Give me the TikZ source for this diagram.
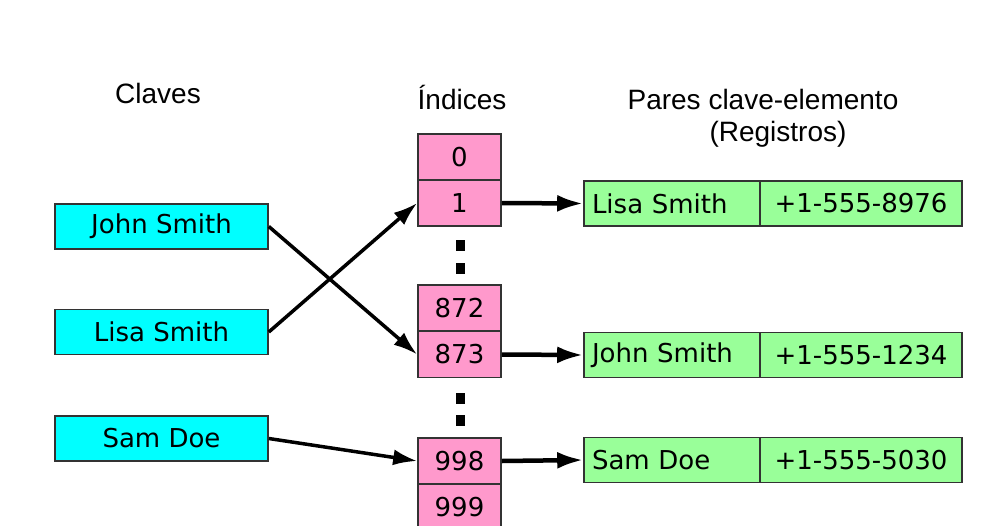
\documentclass[tikz,border=0pt]{standalone}
\usepackage{fontspec}
\setmainfont{Liberation Sans}
\newfontfamily\boxfont{DejaVu Sans}
\usetikzlibrary{arrows.meta}
\definecolor{keycyan}{HTML}{00FFFF}
\definecolor{idxpink}{HTML}{FF99CC}
\definecolor{recgreen}{HTML}{99FF99}
\definecolor{edge}{HTML}{333333}
\tikzset{
  cell/.style={draw=edge, line width=1.6pt, inner sep=0pt, font=\boxfont\fontsize{26}{30}\selectfont},
  keybox/.style={cell, fill=keycyan, minimum width=213pt, minimum height=45pt},
  idxbox/.style={cell, fill=idxpink, minimum width=83pt, minimum height=46pt},
  namebox/.style={cell, fill=recgreen, minimum height=45pt, text width=160pt, align=left, minimum width=176pt},
  phonebox/.style={cell, fill=recgreen, minimum width=202pt, minimum height=45pt},
  heading/.style={font=\fontsize{28}{32}\selectfont, anchor=base, inner sep=0pt},
  dotsq/.style={fill=black, minimum width=9pt, minimum height=11pt, inner sep=0pt},
  keyarrow/.style={line width=3.5pt, -{Latex[length=24pt,width=16pt]}},
  recarrow/.style={line width=4.5pt, -{Latex[length=26pt,width=17pt]}},
}
\begin{document}
\begin{tikzpicture}[x=1pt,y=-1pt]
\useasboundingbox (0,0) rectangle (987,525);
\clip (0,0) rectangle (987,525);
\fill[white] (0,0) rectangle (987,525);
% headings
\node[heading] (hClaves) at (158,103) {Claves};
\node[heading] (hIndices) at (462,109) {Índices};
\node[heading] (hPares) at (763,109) {Pares clave-elemento};
\node[heading] (hReg) at (778,141) {(Registros)};
% keys
\node[keybox] (kJohn) at (161.5,226.5) {John Smith};
\node[keybox] (kLisa) at (161.5,332) {Lisa Smith};
\node[keybox] (kSam) at (161.5,438.5) {Sam Doe};
% index cells
\node[idxbox] (i0) at (459.5,157) {0};
\node[idxbox] (i1) at (459.5,203) {1};
\node[idxbox] (i872) at (459.5,308) {872};
\node[idxbox] (i873) at (459.5,354.5) {873};
\node[idxbox] (i998) at (459.5,461) {998};
\node[idxbox] (i999) at (459.5,507) {999};
% dots
\node[dotsq] (d1) at (460,245) {};
\node[dotsq] (d2) at (460,268) {};
\node[dotsq] (d3) at (460,398) {};
\node[dotsq] (d4) at (460,420) {};
% records
\node[namebox] (rLisaN) at (672,203.5) {Lisa Smith};
\node[phonebox] (rLisaP) at (861,203.5) {+1-555-8976};
\node[namebox] (rJohnN) at (672,355) {John Smith};
\node[phonebox] (rJohnP) at (861,355) {+1-555-1234};
\node[namebox] (rSamN) at (672,460) {Sam Doe};
\node[phonebox] (rSamP) at (861,460) {+1-555-5030};
% key arrows
\draw[keyarrow] (kJohn.east) -- (i873.west);
\draw[keyarrow] (kLisa.east) -- (i1.west);
\draw[keyarrow] (kSam.east) -- (i998.west);
% record arrows
\draw[recarrow] (i1.east) -- (rLisaN.west);
\draw[recarrow] (i873.east) -- (rJohnN.west);
\draw[recarrow] (i998.east) -- (rSamN.west);
\end{tikzpicture}
\end{document}
